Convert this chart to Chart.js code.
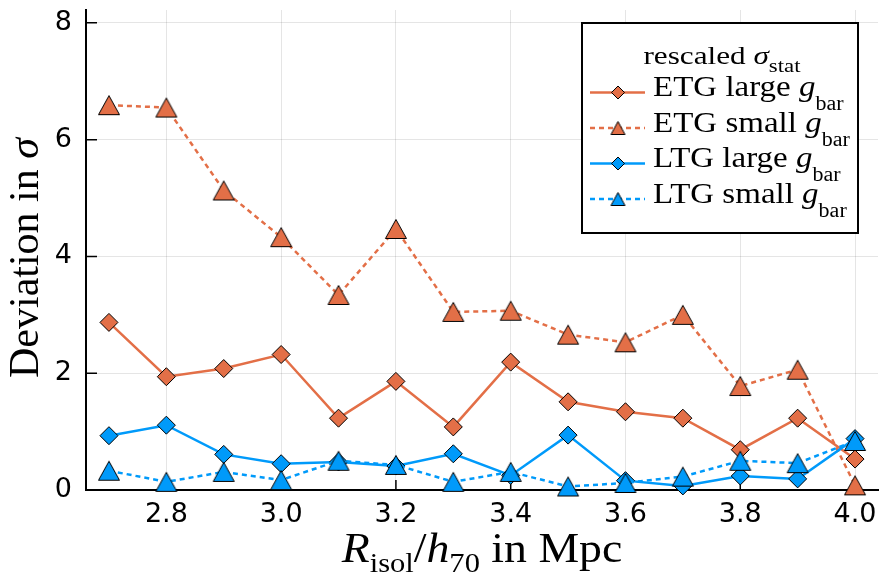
<!DOCTYPE html>
<html>
<head>
<meta charset="utf-8">
<script src="https://cdn.jsdelivr.net/npm/chart.js@4.4.0/dist/chart.umd.min.js"></script>
<style>
  html, body { margin: 0; padding: 0; background: #fff; }
</style>
</head>
<body>
<canvas id="devChart" width="888" height="578"></canvas>
<script>
// --- data ---
const rIsol = [2.7, 2.8, 2.9, 3.0, 3.1, 3.2, 3.3, 3.4, 3.5, 3.6, 3.7, 3.8, 3.9, 4.0];
const etgLarge = [2.87, 1.94, 2.08, 2.32, 1.23, 1.86, 1.08, 2.19, 1.51, 1.34, 1.23, 0.69, 1.23, 0.53];
const etgSmall = [6.59, 6.55, 5.13, 4.33, 3.34, 4.47, 3.05, 3.07, 2.66, 2.53, 3.00, 1.78, 2.06, 0.08];
const ltgLarge = [0.93, 1.11, 0.61, 0.45, 0.48, 0.41, 0.62, 0.25, 0.94, 0.16, 0.07, 0.24, 0.19, 0.88];
const ltgSmall = [0.33, 0.14, 0.31, 0.17, 0.50, 0.43, 0.14, 0.31, 0.06, 0.12, 0.23, 0.50, 0.46, 0.84];
const xTicks = [2.8, 3.0, 3.2, 3.4, 3.6, 3.8, 4.0];
const yTicks = [0, 2, 4, 6, 8];

const ORANGE = 'rgb(227,111,71)';
const BLUE = 'rgb(0,154,250)';
const SERIF = '"Liberation Serif", serif';

// triangle marker centred on its bounding box (like the original)
function makeTriangle(color, w, h) {
  const c = document.createElement('canvas');
  c.width = w + 3; c.height = h + 3;
  const g = c.getContext('2d');
  g.beginPath();
  g.moveTo(c.width / 2, 1.5);
  g.lineTo(1.5, h + 1.5);
  g.lineTo(w + 1.5, h + 1.5);
  g.closePath();
  g.fillStyle = color;
  g.fill();
  g.lineWidth = 1;
  g.strokeStyle = '#000';
  g.stroke();
  return c;
}
const triOrange = makeTriangle(ORANGE, 21, 19);
const triBlue = makeTriangle(BLUE, 21, 19);
const triOrangeSmall = makeTriangle(ORANGE, 14, 13);
const triBlueSmall = makeTriangle(BLUE, 14, 13);

function pts(ys) { return rIsol.map((x, i) => ({ x: x, y: ys[i] })); }

function series(label, ys, color, dashed, marker, order) {
  return {
    label: label,
    data: pts(ys),
    borderColor: color,
    backgroundColor: color,
    borderWidth: 2.5,
    borderDash: dashed ? [5, 4] : [],
    pointStyle: marker,
    pointRadius: 9,
    pointBackgroundColor: color,
    pointBorderColor: '#000',
    pointBorderWidth: 1,
    tension: 0,
    clip: false,
    order: order
  };
}

// text with sub-scripts: parts = [text, size, dy, italic]; sx = horizontal stretch
function drawRich(ctx, parts, x, y, align, sx) {
  let w = 0;
  parts.forEach(p => {
    ctx.font = (p[3] ? 'italic ' : '') + p[1] + 'px ' + SERIF;
    p.w = ctx.measureText(p[0]).width;
    w += p.w;
  });
  ctx.save();
  ctx.translate(x, y);
  ctx.scale(sx || 1, 1);
  let cx = align === 'center' ? -w / 2 : 0;
  ctx.textAlign = 'left';
  ctx.textBaseline = 'alphabetic';
  ctx.fillStyle = '#000';
  parts.forEach(p => {
    ctx.font = (p[3] ? 'italic ' : '') + p[1] + 'px ' + SERIF;
    ctx.fillText(p[0], cx, p[2]);
    cx += p.w;
  });
  ctx.restore();
}

const extras = {
  id: 'extras',
  beforeDatasetsDraw(chart) {
    const ctx = chart.ctx, a = chart.chartArea;
    const xs = chart.scales.x, ys = chart.scales.y;
    ctx.save();
    ctx.strokeStyle = '#000';
    ctx.lineWidth = 1.5;
    ctx.beginPath();
    xTicks.forEach(v => {
      const px = xs.getPixelForValue(v);
      ctx.moveTo(px, a.bottom); ctx.lineTo(px, a.bottom - 10);
    });
    yTicks.forEach(v => {
      const py = ys.getPixelForValue(v);
      ctx.moveTo(a.left, py); ctx.lineTo(a.left + 11, py);
    });
    ctx.stroke();
    ctx.restore();
  },
  afterDraw(chart) {
    const ctx = chart.ctx, a = chart.chartArea;
    ctx.save();
    // axis titles
    drawRich(ctx, [['R', 42, 0, true], ['isol', 28, 10, false], ['/', 42, 0, false],
                   ['h', 42, 0, true], ['70', 28, 10, false], [' in Mpc', 42, 0, false]],
             (a.left + a.right) / 2, 562, 'center', 1.09);
    ctx.save();
    ctx.translate(38, 258);
    ctx.rotate(-Math.PI / 2);
    drawRich(ctx, [['Deviation in ', 42, 0, false], ['σ', 42, 0, true]], 0, 0, 'center', 1);
    ctx.restore();

    // legend
    const L = 582, T = 23, R = 858, B = 233;
    ctx.fillStyle = '#fff';
    ctx.fillRect(L, T, R - L, B - T);
    ctx.strokeStyle = '#000';
    ctx.lineWidth = 2;
    ctx.strokeRect(L, T, R - L, B - T);
    drawRich(ctx, [['rescaled ', 26, 0, false], ['σ', 26, 0, true], ['stat', 19, 8, false]], 722, 64, 'center', 1.2);
    const rows = [
      ['ETG large ', ORANGE, false, 'diamond'],
      ['ETG small ', ORANGE, true, triOrangeSmall],
      ['LTG large ', BLUE, false, 'diamond'],
      ['LTG small ', BLUE, true, triBlueSmall]
    ];
    rows.forEach((r, i) => {
      const base = 96 + i * 35.5, ly = base - 3.5;
      ctx.strokeStyle = r[1];
      ctx.lineWidth = 2.5;
      ctx.setLineDash(r[2] ? [5, 4] : []);
      ctx.beginPath(); ctx.moveTo(590, ly); ctx.lineTo(645, ly); ctx.stroke();
      ctx.setLineDash([]);
      if (r[3] === 'diamond') {
        const d = 6.5;
        ctx.beginPath();
        ctx.moveTo(618 - d, ly); ctx.lineTo(618, ly - d); ctx.lineTo(618 + d, ly); ctx.lineTo(618, ly + d);
        ctx.closePath();
        ctx.fillStyle = r[1]; ctx.fill();
        ctx.lineWidth = 1; ctx.strokeStyle = '#000'; ctx.stroke();
      } else {
        ctx.drawImage(r[3], 618 - r[3].width / 2, ly - r[3].height / 2);
      }
      drawRich(ctx, [[r[0], 30, 0, false], ['g', 30, 0, true], ['bar', 20, 14, false]], 653, base, 'left', 1.1);
    });
    ctx.restore();
  }
};

new Chart(document.getElementById('devChart').getContext('2d'), {
  type: 'line',
  data: {
    datasets: [
      series('ETG large g_bar', etgLarge, ORANGE, false, 'rectRot', 4),
      series('ETG small g_bar', etgSmall, ORANGE, true, triOrange, 3),
      series('LTG large g_bar', ltgLarge, BLUE, false, 'rectRot', 2),
      series('LTG small g_bar', ltgSmall, BLUE, true, triBlue, 1)
    ]
  },
  options: {
    responsive: false,
    animation: false,
    layout: { padding: { left: 0, top: 5, right: 3, bottom: 0 } },
    plugins: {
      legend: { display: false },
      tooltip: { enabled: false }
    },
    scales: {
      x: {
        type: 'linear',
        min: 2.66,
        max: 4.04,
        afterBuildTicks: s => { s.ticks = xTicks.map(v => ({ value: v })); },
        afterFit: s => { s.height = 88; s.paddingLeft = 0; s.paddingRight = 0; },
        ticks: {
          callback: v => v.toFixed(1),
          color: '#000',
          padding: 9,
          maxRotation: 0,
          font: { family: '"DejaVu Sans", sans-serif', size: 27 }
        },
        grid: { color: 'rgba(0,0,0,0.1)', drawTicks: false },
        border: { display: true, color: '#000', width: 2 }
      },
      y: {
        min: 0,
        max: 8.22,
        afterBuildTicks: s => { s.ticks = yTicks.map(v => ({ value: v })); },
        afterFit: s => { s.width = 86; s.paddingTop = 0; s.paddingBottom = 0; },
        ticks: {
          color: '#000',
          padding: 14,
          font: { family: '"DejaVu Sans", sans-serif', size: 27 }
        },
        grid: { color: 'rgba(0,0,0,0.1)', drawTicks: false },
        border: { display: true, color: '#000', width: 2 }
      }
    }
  },
  plugins: [extras]
});
</script>
</body>
</html>
